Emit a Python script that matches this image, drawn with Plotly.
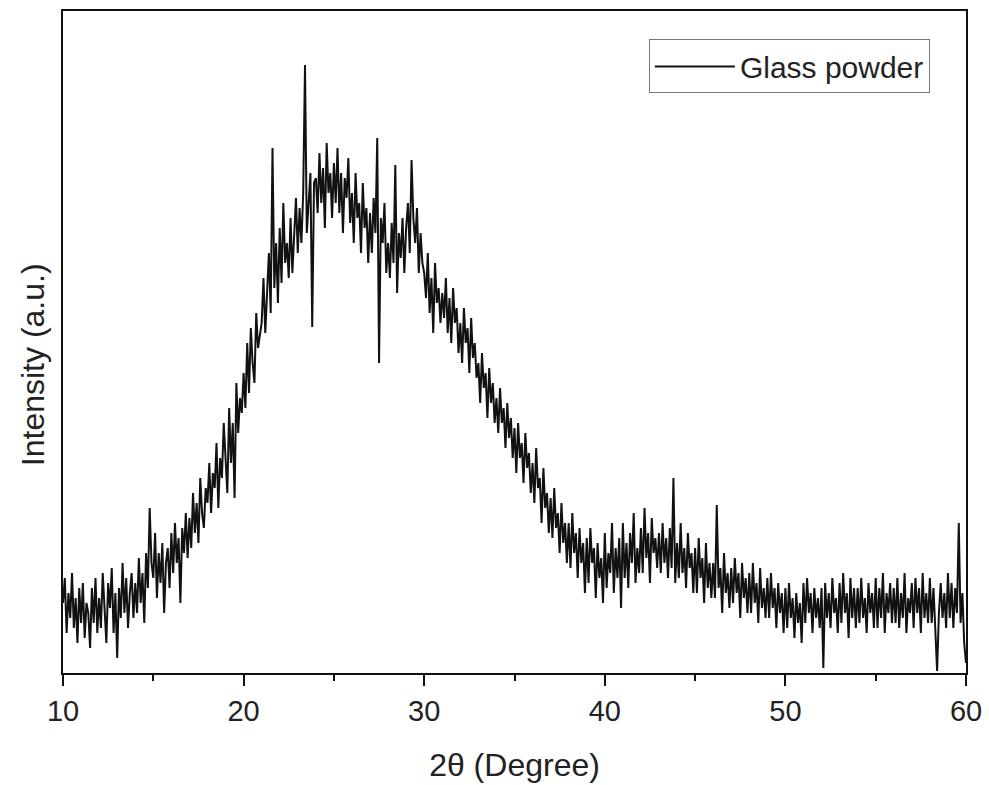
import plotly.graph_objects as go

# 2-theta start/step (degrees) and intensity values (a.u.)
theta_start = 10.0
theta_step = 0.1
intensity = [
    # 10
    70, 95, 40, 80, 55, 100, 45, 75, 30, 85,
    # 11
    50, 90, 35, 70, 60, 25, 85, 50, 95, 40,
    # 12
    75, 45, 100, 60, 30, 90, 65, 105, 40, 80,
    # 13
    15, 85, 55, 110, 60, 95, 45, 80, 100, 55,
    # 14
    90, 60, 115, 70, 100, 50, 120, 85, 165, 110,
    # 15
    95, 140, 75, 120, 90, 130, 60, 110, 125, 85,
    # 16
    140, 100, 150, 110, 135, 70, 145, 120, 160, 115,
    # 17
    155, 125, 180, 140, 170, 130, 195, 160, 145, 185,
    # 18
    170, 210, 160, 200, 185, 230, 165, 215, 195, 250,
    # 19
    220, 180, 265, 210, 250, 175, 290, 240, 275, 260,
    # 20
    300, 265, 330, 280, 345, 310, 290, 360, 325, 340,
    # 21
    350, 395, 340, 380, 420, 360, 525, 385, 430, 370,
    # 22
    445, 390, 470, 410, 430, 395, 455, 400, 440, 475,
    # 23
    420, 465, 430, 480, 608, 440, 470, 500, 346, 490,
    # 24
    495, 460, 520, 470, 505, 445, 530, 480, 500, 455,
    # 25
    510, 470, 525, 460, 500, 440, 495, 475, 515, 450,
    # 26
    480, 430, 500, 455, 470, 420, 490, 445, 465, 410,
    # 27
    460, 420, 475, 440, 535, 310, 455, 430, 470, 400,
    # 28
    430, 395, 450, 410, 508, 380, 440, 415, 455, 400,
    # 29
    445, 470, 420, 513, 455, 430, 465, 400, 440, 410,
    # 30
    400, 375, 420, 360, 395, 340, 410, 370, 385, 350,
    # 31
    380, 355, 395, 340, 375, 330, 385, 350, 365, 320,
    # 32
    350, 310, 365, 330, 345, 300, 355, 315, 330, 295,
    # 33
    310, 270, 320, 285, 300, 255, 305, 270, 290, 250,
    # 34
    275, 240, 285, 250, 265, 225, 270, 235, 255, 215,
    # 35
    245, 200, 250, 215, 230, 190, 240, 205, 220, 180,
    # 36
    210, 170, 225, 185, 195, 150, 205, 165, 180, 140,
    # 37
    175, 135, 185, 145, 160, 120, 170, 130, 150, 110,
    # 38
    150, 105, 160, 120, 140, 95, 145, 110, 130, 80,
    # 39
    135, 90, 145, 110, 125, 75, 130, 95, 115, 70,
    # 40
    140, 85, 120, 100, 150, 80, 125, 95, 135, 65,
    # 41
    150, 95, 130, 85, 140, 110, 160, 90, 125, 100,
    # 42
    145, 100, 165, 115, 140, 90, 155, 120, 135, 105,
    # 43
    140, 100, 150, 110, 135, 95, 145, 105, 195, 90,
    # 44
    130, 95, 150, 100, 125, 85, 140, 105, 120, 80,
    # 45
    125, 80, 135, 95, 115, 70, 130, 85, 110, 75,
    # 46
    110, 75, 168, 85, 105, 60, 120, 80, 100, 65,
    # 47
    105, 70, 115, 80, 100, 55, 110, 75, 95, 60,
    # 48
    100, 60, 110, 70, 90, 50, 105, 65, 85, 55,
    # 49
    95, 55, 100, 65, 85, 45, 90, 60, 80, 40,
    # 50
    85, 45, 90, 55, 75, 35, 80, 50, 70, 30,
    # 51
    90, 50, 95, 60, 80, 40, 85, 55, 75, 45,
    # 52
    85, 5, 90, 55, 80, 45, 95, 60, 75, 40,
    # 53
    90, 50, 100, 60, 80, 35, 95, 55, 85, 45,
    # 54
    85, 50, 95, 55, 75, 40, 90, 60, 80, 45,
    # 55
    95, 45, 85, 55, 100, 40, 80, 60, 90, 50,
    # 56
    85, 50, 95, 45, 80, 55, 100, 40, 75, 60,
    # 57
    90, 45, 95, 60, 85, 40, 100, 55, 80, 50,
    # 58
    95, 50, 85, 40, 2, 60, 90, 55, 80, 45,
    # 59
    100, 55, 90, 45, 85, 60, 150, 50, 80, 30,
    # 60
    10,
]
theta = [round(theta_start + i * theta_step, 2) for i in range(len(intensity))]

x_ticks = [10, 20, 30, 40, 50, 60]

fig = go.Figure()
fig.add_trace(go.Scatter(
    x=theta, y=intensity, mode="lines", name="Glass powder",
    line=dict(color="#111111", width=2),
))

font_family = "Liberation Sans, Arial, sans-serif"
fig.update_layout(
    width=989, height=785,
    margin=dict(l=63, r=23, t=11, b=112),
    paper_bgcolor="white", plot_bgcolor="white",
    font=dict(family=font_family, color="#222", size=29),
    showlegend=True,
    legend=dict(
        x=0.96, y=0.957, xanchor="right", yanchor="top",
        bordercolor="#777", borderwidth=1, bgcolor="white",
        font=dict(size=30, color="#222"),
        itemwidth=80,
        tracegroupgap=0,
    ),
    xaxis=dict(
        range=[10, 60], tickvals=x_ticks, ticktext=[str(v) for v in x_ticks],
        ticks="outside", ticklen=11, tickwidth=2, tickcolor="#111",
        showline=True, linewidth=2, linecolor="#111", mirror=True,
        showgrid=False, zeroline=False, automargin=False,
        minor=dict(tickvals=[15, 25, 35, 45, 55], ticks="outside",
                   ticklen=6, tickwidth=2, tickcolor="#111"),
        title=dict(text="2θ (Degree)", font=dict(size=32), standoff=28),
        tickfont=dict(size=29),
    ),
    yaxis=dict(
        range=[0, 662], showticklabels=False, ticks="",
        showline=True, linewidth=2, linecolor="#111", mirror=True,
        showgrid=False, zeroline=False, automargin=False,
    ),
    annotations=[dict(
        text="Intensity (a.u.)", textangle=-90, showarrow=False,
        xref="paper", yref="paper", x=0, y=0.465,
        xanchor="center", yanchor="middle", xshift=-30,
        font=dict(size=32, color="#222"),
    )],
)

fig.write_html("out.html")
